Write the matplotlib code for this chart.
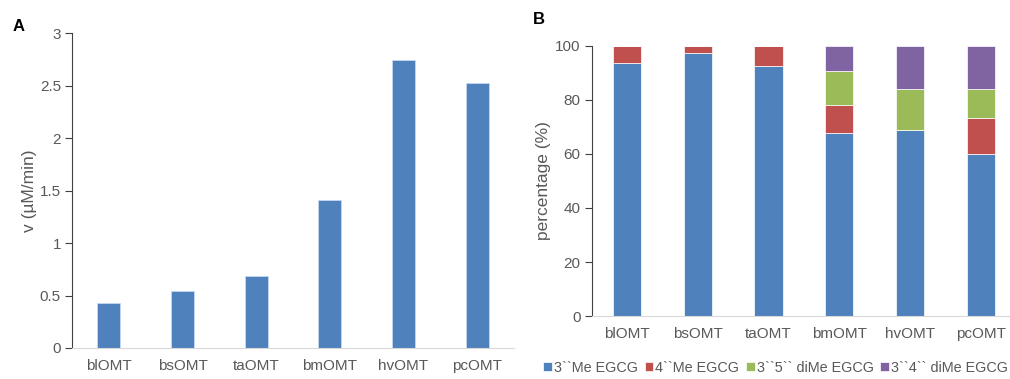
import matplotlib
matplotlib.use("Agg")
import matplotlib.pyplot as plt
import numpy as np

plt.rcParams['font.family'] = ['Liberation Sans', 'DejaVu Sans']

categories = ["blOMT", "bsOMT", "taOMT", "bmOMT", "hvOMT", "pcOMT"]
rate = [0.43, 0.54, 0.69, 1.41, 2.74, 2.52]

series_names = ["3``Me EGCG", "4``Me EGCG", "3``5`` diMe EGCG", "3``4`` diMe EGCG"]
me3 = [93.5, 97.2, 92.5, 67.6, 68.9, 59.8]
me4 = [6.5, 2.8, 7.5, 10.5, 0.0, 13.6]
dime35 = [0.0, 0.0, 0.0, 12.7, 15.3, 10.8]
dime34 = [0.0, 0.0, 0.0, 9.2, 15.8, 15.8]

colors = ["#4F81BD", "#C0504D", "#9BBB59", "#8064A2"]
tick_col = "#595959"

fig = plt.figure(figsize=(10.10, 3.79), dpi=100)

def style(ax):
    ax.spines['top'].set_visible(False)
    ax.spines['right'].set_visible(False)
    ax.spines['left'].set_color("#404040")
    ax.spines['bottom'].set_color("#d9d9d9")
    ax.tick_params(axis='y', colors=tick_col, labelsize=11, length=5, direction='out', color="#404040", pad=3)
    ax.tick_params(axis='x', colors=tick_col, labelsize=11, length=0, pad=8)

# Panel A
axA = fig.add_axes([0.0713, 0.0818, 0.4376, 0.831])
x = np.arange(len(categories))
axA.bar(x, rate, width=0.31, color=colors[0], edgecolor="#c6d9f1", linewidth=0.6)
axA.set_xlim(-0.5, len(categories) - 0.5)
axA.set_ylim(0, 3)
axA.set_yticks([0, 0.5, 1, 1.5, 2, 2.5, 3])
axA.set_yticklabels(["0", "0.5", "1", "1.5", "2", "2.5", "3"])
axA.set_xticks(x)
axA.set_xticklabels(categories)
axA.set_ylabel("v (µM/min)", color=tick_col, fontsize=12.5, labelpad=2)
style(axA)
fig.text(0.012, 0.93, "A", fontsize=12, fontweight='bold', ha='left', va='center')

# Panel B
axB = fig.add_axes([0.586, 0.166, 0.42, 0.713])
bottom = np.zeros(len(categories))
handles = []
for vals, c, name in zip([me3, me4, dime35, dime34], colors, series_names):
    h = axB.bar(x, vals, width=0.40, bottom=bottom, color=c, edgecolor="white", linewidth=0.5, label=name)
    bottom = bottom + np.array(vals)
    handles.append(h)
axB.set_xlim(-0.5, len(categories) - 0.5)
axB.set_ylim(0, 100)
axB.set_yticks([0, 20, 40, 60, 80, 100])
axB.set_xticks(x)
axB.set_xticklabels(categories)
axB.set_ylabel("percentage (%)", color=tick_col, fontsize=12.5, labelpad=3)
style(axB)
fig.text(0.528, 0.948, "B", fontsize=12, fontweight='bold', ha='left', va='center')

leg = fig.legend(handles=handles, labels=series_names, loc='center', bbox_to_anchor=(0.768, 0.03),
                 ncol=4, frameon=False, fontsize=10.4, handlelength=0.6, handleheight=0.6,
                 handletextpad=0.15, columnspacing=0.45, borderaxespad=0)
for t in leg.get_texts():
    t.set_color(tick_col)

fig.savefig("out.png", dpi=100)
